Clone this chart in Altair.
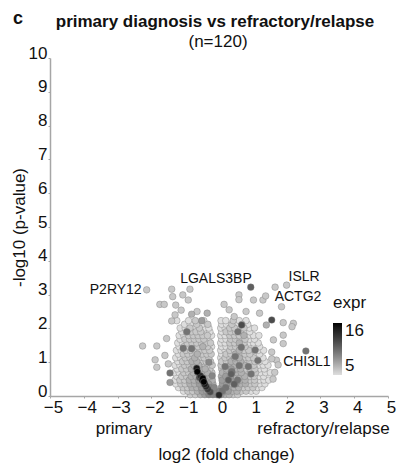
import altair as alt
import pandas as pd

FONT = "Liberation Sans"

# ---- dense cloud, read row by row (y = -log10 p, x = log2 FC, expr digits) ----
ROW_Y = [0.04, 0.14, 0.25, 0.36, 0.47, 0.58, 0.69, 0.80, 0.91, 1.02, 1.13,
         1.24, 1.35, 1.46, 1.57, 1.68, 1.79, 1.90, 2.01, 2.12, 2.23]
ROW_X = [
    [-0.85, -0.7, -0.55, -0.42, -0.3, -0.18, -0.06, 0.06, 0.18, 0.3, 0.42, 0.55],
    [-1.05, -0.92, -0.78, -0.64, -0.5, -0.37, -0.24, -0.12, 0.02, 0.14, 0.27, 0.4, 0.53, 0.66, 0.8, 0.95, 1.1],
    [-1.2, -1.06, -0.93, -0.8, -0.66, -0.52, -0.38, -0.26, -0.14, 0.07, 0.19, 0.32, 0.45, 0.58, 0.72, 0.86, 1.0, 1.14, 1.27],
    [-1.28, -1.13, -1.0, -0.86, -0.72, -0.58, -0.45, -0.31, -0.18, 0.1, 0.23, 0.37, 0.5, 0.64, 0.78, 0.92, 1.06, 1.2, 1.36],
    [-1.3, -1.16, -1.02, -0.88, -0.74, -0.6, -0.46, -0.33, -0.2, 0.09, 0.22, 0.35, 0.49, 0.63, 0.77, 0.91, 1.05, 1.19, 1.33, 1.47],
    [-1.25, -1.1, -0.96, -0.82, -0.68, -0.55, -0.41, -0.27, 0.07, 0.2, 0.34, 0.48, 0.62, 0.76, 0.9, 1.04, 1.18, 1.32],
    [-1.32, -1.18, -1.04, -0.9, -0.76, -0.62, -0.48, -0.34, -0.21, 0.1, 0.24, 0.38, 0.52, 0.66, 0.8, 0.94, 1.08, 1.22, 1.38, 1.52],
    [-1.24, -1.1, -0.96, -0.82, -0.68, -0.55, -0.41, -0.27, 0.08, 0.22, 0.36, 0.5, 0.64, 0.78, 0.92, 1.06, 1.2, 1.34],
    [-1.3, -1.16, -1.02, -0.88, -0.74, -0.6, -0.46, -0.32, -0.2, 0.06, 0.19, 0.33, 0.47, 0.61, 0.75, 0.89, 1.03, 1.17, 1.31, 1.45],
    [-1.22, -1.08, -0.94, -0.8, -0.66, -0.52, -0.38, -0.25, 0.08, 0.22, 0.36, 0.5, 0.64, 0.78, 0.92, 1.06, 1.2, 1.36],
    [-1.28, -1.14, -1.0, -0.86, -0.72, -0.58, -0.44, -0.3, 0.05, 0.18, 0.32, 0.46, 0.6, 0.74, 0.88, 1.02, 1.16, 1.3],
    [-1.2, -1.06, -0.92, -0.78, -0.64, -0.5, -0.36, -0.23, 0.08, 0.21, 0.35, 0.49, 0.63, 0.77, 0.91, 1.05, 1.2],
    [-1.26, -1.12, -0.98, -0.84, -0.7, -0.56, -0.42, -0.28, 0.05, 0.18, 0.32, 0.46, 0.6, 0.74, 0.88, 1.02, 1.16, 1.32],
    [-1.18, -1.04, -0.9, -0.76, -0.62, -0.48, -0.34, -0.22, 0.08, 0.21, 0.35, 0.49, 0.63, 0.77, 0.91, 1.05, 1.2],
    [-1.22, -1.08, -0.94, -0.8, -0.66, -0.52, -0.38, -0.25, 0.05, 0.18, 0.32, 0.46, 0.6, 0.74, 0.88, 1.02, 1.16],
    [-1.15, -1.01, -0.87, -0.73, -0.59, -0.45, -0.31, 0.08, 0.21, 0.35, 0.49, 0.63, 0.77, 0.91, 1.05],
    [-1.18, -1.04, -0.9, -0.76, -0.62, -0.48, -0.34, -0.22, 0.05, 0.18, 0.32, 0.46, 0.6, 0.74, 0.88, 1.02, 1.18],
    [-1.1, -0.96, -0.82, -0.68, -0.54, -0.4, -0.27, 0.08, 0.21, 0.35, 0.49, 0.63, 0.77, 0.91],
    [-1.15, -1.0, -0.86, -0.72, -0.58, -0.44, -0.3, 0.05, 0.18, 0.32, 0.46, 0.6, 0.74, 0.9, 1.05],
    [-1.02, -0.85, -0.66, -0.5, -0.33, 0.08, 0.22, 0.38, 0.52, 0.68, 0.85],
    [-1.25, -0.9, -0.7, -0.45, 0.06, 0.2, 0.42, 0.6, 0.8],
]
ROW_EXPR = [
    "667899987766",
    "56678899988776655",
    "5667788998877766655",
    "5667788878878776655",
    "56677887787877766555",
    "566778777887776655",
    "55667777677877666555",
    "566777766787766655",
    "55667766666777766555",
    "566776666677766655",
    "556676665667766655",
    "56667666566766655",
    "556666665566766555",
    "56666765556666555",
    "55666666556676555",
    "566666555666655",
    "55666665556667555",
    "56666555666655",
    "556565555665655",
    "55656556565",
    "556555655",
]

# ---- scattered outer points ----
OUT_X = [-2.26, -1.84, -1.89, -1.84, -1.75, -1.62, -1.40, -1.37, -1.07, -0.86, -1.28, -0.91,
         -0.81, -0.51, -1.12, -1.40, -1.55, -1.60, -1.50, -1.45, -1.30, -0.65, -0.35,
         0.59, 0.59, 0.15, 1.02, 1.30, 1.66, 1.85, 1.90, 2.20, 2.16, 1.61, 1.90, 1.90,
         1.56, 1.70, 1.75, 1.56, 0.30, 0.80, 1.20, 0.45, 1.40, 1.65, 1.60]
OUT_Y = [1.48, 1.48, 1.07, 0.85, 2.71, 2.71, 3.16, 2.94, 2.99, 3.16, 2.69, 2.84,
         2.42, 2.23, 2.54, 2.22, 1.70, 1.20, 0.95, 0.40, 2.40, 2.50, 2.45,
         2.99, 2.85, 2.71, 2.84, 2.84, 3.22, 2.64, 2.17, 2.15, 2.05, 1.66, 1.80, 1.55,
         1.30, 1.06, 0.92, 1.10, 2.55, 2.50, 2.45, 2.35, 2.10, 0.70, 0.50]
OUT_EXPR = [6, 6, 6, 6, 6, 6, 6, 6, 6, 6, 6, 6,
            7, 8, 6, 6, 6, 6, 6, 8, 6, 6, 7,
            6, 6, 6, 6, 6, 6, 6, 6, 6, 6, 6, 6, 6,
            6, 6, 6, 6, 6, 6, 6, 6, 7, 6, 6]

# ---- darker (highly expressed) points ----
DARK_X = [-0.66, -0.64, -0.55, -0.48, -0.45, -0.42, -0.38, -0.33, -0.26, 0.0, -0.5, -0.58,
          -1.06, -0.81, -0.95, -1.45, 0.28, 0.38, 0.55, 0.67, 0.87, 1.07, 1.56, 0.18,
          0.48, 0.36, 0.45, 0.95, 1.15, 0.66, 0.56, -0.2, -0.3, 0.2, 0.1, 0.6]
DARK_Y = [0.82, 0.72, 0.60, 0.52, 0.42, 0.35, 0.28, 0.20, 0.12, 0.03, 0.47, 0.55,
          1.41, 1.40, 1.90, 0.68, 0.47, 0.72, 0.47, 2.10, 0.87, 1.36, 2.25, 0.87,
          1.17, 0.65, 0.35, 0.65, 1.05, 1.44, 1.90, 0.60, 1.00, 0.25, 0.15, 0.90]
DARK_EXPR = [15, 16, 14, 16, 16, 15, 14, 13, 12, 14, 15, 12,
             10, 10, 10, 10, 11, 10, 10, 12, 10, 10, 12, 10,
             10, 11, 11, 10, 10, 10, 10, 9, 9, 10, 10, 10]

# ---- labelled genes ----
GENES = ["P2RY12", "LGALS3BP", "ISLR", "ACTG2", "CHI3L1"]
GENE_X = [-2.14, 0.94, 2.00, 1.38, 2.57]
GENE_Y = [3.14, 3.22, 3.28, 2.96, 1.33]
GENE_EXPR = [6, 11, 6, 6, 10]

TITLE = "primary diagnosis vs refractory/relapse"
SUBTITLE = "(n=120)"
SIDE_LEFT = "primary"
SIDE_RIGHT = "refractory/relapse"
PANEL = "c"

recs = []
for y, xs, es in zip(ROW_Y, ROW_X, ROW_EXPR):
    for x, e in zip(xs, es):
        recs.append({"lfc": x, "nlp": y, "expr": int(e), "gene": ""})
for x, y, e in zip(OUT_X, OUT_Y, OUT_EXPR):
    recs.append({"lfc": x, "nlp": y, "expr": e, "gene": ""})
for x, y, e in zip(DARK_X, DARK_Y, DARK_EXPR):
    recs.append({"lfc": x, "nlp": y, "expr": e, "gene": ""})
for g, x, y, e in zip(GENES, GENE_X, GENE_Y, GENE_EXPR):
    recs.append({"lfc": x, "nlp": y, "expr": e, "gene": g})
df = pd.DataFrame(recs).sort_values("expr", kind="stable").reset_index(drop=True)

TXT = "#111111"
AX = "#a6a6a6"

XSCALE = alt.Scale(domain=[-5, 5], nice=False, zero=False)
YSCALE = alt.Scale(domain=[0, 10], nice=False, zero=False)

x_enc = alt.X(
    "lfc:Q",
    scale=XSCALE,
    axis=alt.Axis(
        values=list(range(-5, 6)), title="log2 (fold change)", grid=False,
        domainColor=AX, domainWidth=1.5, tickColor=AX, tickSize=2, tickWidth=1,
        labelFontSize=17, labelFont=FONT, labelColor=TXT, labelPadding=1,
        labelOffset=3, labelFlush=False, labelOverlap=False,
        titleFontSize=17, titleFont=FONT, titleFontWeight="normal", titleColor=TXT,
        titleX=176, titleY=63, titleBaseline="alphabetic",
    ),
)
y_enc = alt.Y(
    "nlp:Q",
    scale=YSCALE,
    axis=alt.Axis(
        values=list(range(0, 11)), title="-log10 (p-value)", grid=False,
        domainColor=AX, domainWidth=1.5, tickColor=AX, tickSize=2, tickWidth=1,
        labelFontSize=17, labelFont=FONT, labelColor=TXT, labelPadding=1,
        labelBaseline="alphabetic", labelFlush=False, labelOverlap=False,
        titleFontSize=17, titleFont=FONT, titleFontWeight="normal", titleColor=TXT,
        titlePadding=0,
    ),
)

points = alt.Chart(df).mark_circle(
    size=44, opacity=1, stroke="#7a7a7a", strokeWidth=0.6, strokeOpacity=0.7
).encode(
    x=x_enc,
    y=y_enc,
    color=alt.Color(
        "expr:Q",
        scale=alt.Scale(domain=[5, 16], range=["#dedede", "#000000"]),
        legend=alt.Legend(
            orient="none", legendX=283, legendY=237, direction="vertical",
            gradientLength=52, gradientThickness=9, gradientStrokeWidth=0,
            values=[5, 16], title="expr", titleFontSize=17, titleFont=FONT,
            titleFontWeight="normal", titleColor=TXT, titlePadding=11,
            labelFontSize=17, labelFont=FONT, labelColor=TXT,
            labelBaseline="alphabetic", labelOffset=3, padding=0,
            labelOverlap=False,
        ),
    ),
    order=alt.Order("expr:Q"),
)

LABEL_STYLE = {
    "P2RY12": ("right", -5, 0),
    "LGALS3BP": ("right", 1, -8),
    "ISLR": ("left", 2, -8),
    "ACTG2": ("left", 9, 1),
    "CHI3L1": ("center", 1, 11),
}
gdf = pd.DataFrame({"gene": GENES, "lfc": GENE_X, "nlp": GENE_Y})
label_layers = []
for g in GENES:
    al, dx, dy = LABEL_STYLE[g]
    label_layers.append(
        alt.Chart(gdf).transform_filter(alt.datum.gene == g).mark_text(
            align=al, baseline="middle", dx=dx, dy=dy, fontSize=14, font=FONT, color=TXT
        ).encode(x=x_enc, y=y_enc, text="gene:N")
    )


def free_text(txt, x, y, size, weight="normal", align="center"):
    return alt.Chart(pd.DataFrame({"t": [txt]})).mark_text(
        align=align, baseline="alphabetic", fontSize=size, fontWeight=weight,
        font=FONT, color=TXT
    ).encode(x=alt.value(x), y=alt.value(y), text="t:N")


texts = [
    free_text(SIDE_LEFT, 74, 376, 17),
    free_text(SIDE_RIGHT, 273.5, 376, 17),
    free_text(PANEL, -37, -34, 18, weight="bold", align="left"),
    free_text(TITLE, 165, -31, 17, weight="bold"),
    free_text(SUBTITLE, 168, -11, 17),
]

chart = alt.layer(points, *label_layers, *texts).properties(
    width=338,
    height=338,
    autosize=alt.AutoSizeParams(type="none"),
    padding={"left": 50, "top": 58, "right": 10, "bottom": 73},
).configure_view(stroke=None).configure_axis(labelOverlap=False)

chart.save("out.html", embed_options={"renderer": "svg", "actions": False})
